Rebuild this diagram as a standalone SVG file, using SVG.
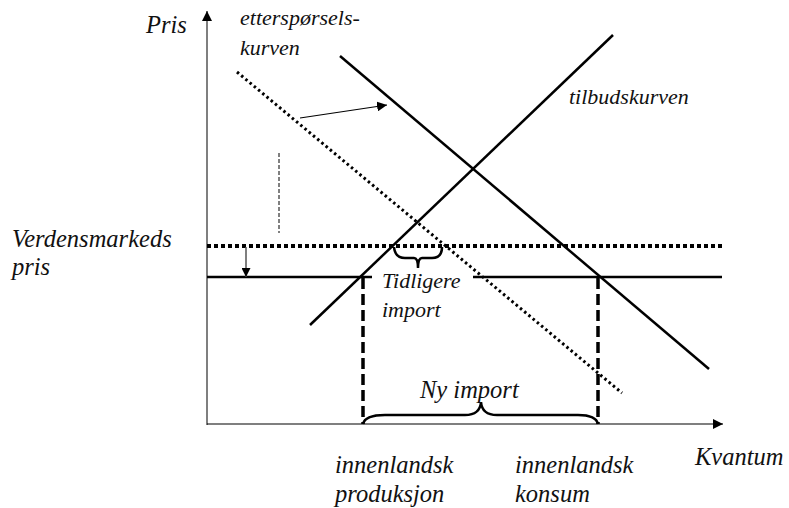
<svg xmlns="http://www.w3.org/2000/svg" width="789" height="508" viewBox="0 0 789 508">
<defs>
<marker id="ah" viewBox="0 0 10 10" refX="10" refY="5" markerWidth="10" markerHeight="10" markerUnits="userSpaceOnUse" orient="auto">
<path d="M0,0 L10,5 L0,10 Z" fill="#000"/>
</marker>
<marker id="ahs" viewBox="0 0 10 10" refX="10" refY="5" markerWidth="9" markerHeight="9" markerUnits="userSpaceOnUse" orient="auto">
<path d="M0,0 L10,5 L0,10 Z" fill="#000"/>
</marker>
</defs>
<style>
.l{font-size:24.5px;}
.s{font-size:22px;}
.solid{stroke:#000;stroke-width:2.5;fill:none;}
.thin{stroke:#000;stroke-width:1.2;fill:none;}
.axis{stroke:#555;stroke-width:1.5;fill:none;}
</style>
<rect width="789" height="508" fill="#fff"/>
<g id="connectors">
<line id="y-axis" class="axis" x1="207" y1="425" x2="207" y2="11" marker-end="url(#ah)"/>
<line id="x-axis" class="thin" x1="207" y1="424" x2="723" y2="424" marker-end="url(#ah)"/>
<line id="supply" class="solid" x1="310" y1="325" x2="613" y2="35"/>
<line id="demand-new" class="solid" x1="340" y1="56" x2="709" y2="369"/>
<line id="demand-old" stroke="#000" stroke-width="3" stroke-dasharray="2.5 3" x1="237" y1="72" x2="622" y2="393"/>
<line id="shift-arrow" class="thin" x1="300" y1="118" x2="387" y2="105" marker-end="url(#ah)"/>
<line id="thin-dash" stroke="#000" stroke-width="1" stroke-dasharray="4 2" x1="279" y1="153" x2="279" y2="233"/>
<line id="old-price" stroke="#000" stroke-width="4" stroke-dasharray="4 3" x1="207" y1="246" x2="722" y2="246"/>
<line id="new-price-left" class="solid" x1="207" y1="277" x2="372" y2="277"/>
<line id="new-price-right" class="solid" x1="473" y1="277" x2="722" y2="277"/>
<line id="price-drop" class="axis" x1="246" y1="247" x2="246" y2="277" marker-end="url(#ahs)"/>
<line id="prod-dash" stroke="#000" stroke-width="3.5" stroke-dasharray="11 5" x1="363" y1="278" x2="363" y2="424"/>
<line id="cons-dash" stroke="#000" stroke-width="3.5" stroke-dasharray="11 5" x1="598" y1="278" x2="598" y2="424"/>
<path id="brace-old" class="solid" stroke-width="2" d="M394,247 Q395,258 405,258 L414,258 Q418,258 418,268 Q418,258 422,258 L432,258 Q442,258 442,247"/>
<path id="brace-new" class="solid" stroke-width="2.2" d="M363,424 Q365,415 385,415 L465,415 Q480,415 481,402 Q482,415 497,415 L578,415 Q596,415 598,424"/>
</g>
<g id="labels" font-family="Liberation Serif, Times New Roman, serif" font-style="italic" fill="#111">
<text class="l" x="146" y="33">Pris</text>
<text class="s" x="240" y="25">etterspørsels-</text>
<text class="s" x="240" y="55">kurven</text>
<text class="s" x="569" y="104">tilbudskurven</text>
<text class="l" x="12" y="247">Verdensmarkeds</text>
<text class="l" x="12" y="275">pris</text>
<text class="s" x="382" y="288">Tidligere</text>
<text class="s" x="382" y="317">import</text>
<text class="l" x="420" y="398">Ny import</text>
<text class="l" x="335" y="473">innenlandsk</text>
<text class="l" x="335" y="502">produksjon</text>
<text class="l" x="515" y="473">innenlandsk</text>
<text class="l" x="515" y="502">konsum</text>
<text class="l" x="695" y="465">Kvantum</text>
</g>
</svg>
